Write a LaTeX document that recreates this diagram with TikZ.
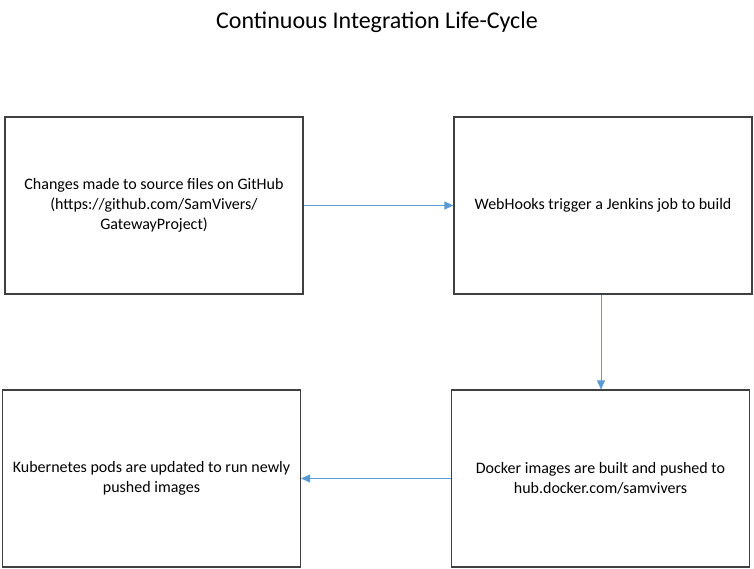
\documentclass[tikz,border=0pt]{standalone}
\usepackage{fontspec}
\setmainfont{Carlito}
\usetikzlibrary{arrows.meta}
\definecolor{boxline}{HTML}{404040}
\definecolor{arrowblue}{HTML}{5B9BD5}
\begin{document}
\begin{tikzpicture}[x=1pt,y=-1pt,
  stepbox/.style={draw=boxline,line width=1.2pt,minimum width=298pt,minimum height=177pt,inner sep=0pt,align=center,
    font=\fontsize{16}{20}\selectfont},
  flow/.style={draw=arrowblue,line width=0.9pt,-{Triangle[length=9pt,width=8pt]}}]
\useasboundingbox (0,0) rectangle (754,569);
\node[font=\fontsize{24}{28}\selectfont] (title) at (377,22) {Continuous Integration Life-Cycle};
\node[stepbox] (a) at (154,205.5) {Changes made to source files on GitHub\\(https://github.com/SamVivers/\\GatewayProject)};
\node[stepbox] (b) at (603,205.5) {WebHooks trigger a Jenkins job to build};
\node[stepbox] (d) at (600.5,478.5) {Docker images are built and pushed to\\hub.docker.com/samvivers};
\node[stepbox] (c) at (151.5,478.5) {Kubernetes pods are updated to run newly\\pushed images};
\draw[flow] (a.east) -- (b.west);
\draw[flow] (b.south -| 601,0) -- (d.north -| 601,0);
\draw[flow] (d.west) -- (c.east);
\end{tikzpicture}
\end{document}
